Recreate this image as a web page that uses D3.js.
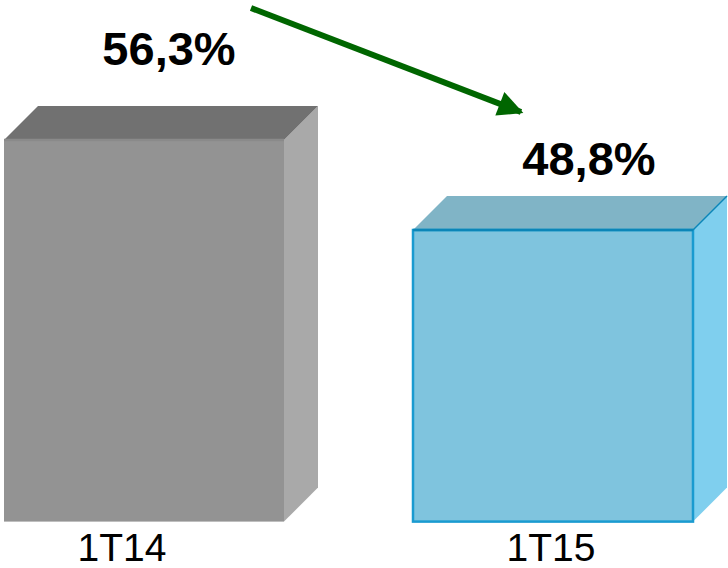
<!DOCTYPE html>
<html>
<head>
<meta charset="utf-8">
<script src="https://cdn.jsdelivr.net/npm/d3@7"></script>
<style>
  html, body { margin: 0; padding: 0; background: #ffffff; }
  svg { display: block; }
</style>
</head>
<body>
<svg id="chart" width="728" height="568"></svg>
<script>
// Data
const categories = ["1T14", "1T15"];
const values = [56.3, 48.8];
const valueLabels = ["56,3%", "48,8%"];

// Visual styling per bar
const faceColors = [
  { front: "#939393", top: "#717171", side: "#a9a9a9", stroke: "none", topEdge: "#8a8a8a" },
  { front: "#7fc4de", top: "#80b4c6", side: "#7fcfee", stroke: "#1a9bd0", topEdge: "#0b86b8" }
];
// small per-bar label nudges
const catLabelDx = [-22, -2];
const valueLabelDx = [0, 11];
const valueLabelLift = [41, 21];

const W = 728, H = 568;
const depth = 34;

const svg = d3.select("#chart");

const x = d3.scaleBand()
  .domain(categories)
  .range([4, 693])
  .paddingInner(0.3154)
  .paddingOuter(0);

const y = d3.scaleLinear()
  .domain([24.5, 60])
  .range([521.6, 95.6]);

const bars = svg.selectAll("g.bar")
  .data(categories.map((c, i) => ({ c, v: values[i], i })))
  .join("g")
  .attr("class", "bar");

bars.each(function(d) {
  const g = d3.select(this);
  const x0 = x(d.c), x1 = x0 + x.bandwidth();
  const yt = y(d.v), yb = y.range()[0];
  const col = faceColors[d.i];

  // side face
  g.append("path")
    .attr("d", `M${x1},${yt} L${x1 + depth},${yt - depth} L${x1 + depth},${yb - depth} L${x1},${yb} Z`)
    .attr("fill", col.side);
  // top face
  g.append("path")
    .attr("d", `M${x0},${yt} L${x0 + depth},${yt - depth} L${x1 + depth},${yt - depth} L${x1},${yt} Z`)
    .attr("fill", col.top);
  // front face
  g.append("rect")
    .attr("x", x0).attr("y", yt)
    .attr("width", x1 - x0).attr("height", yb - yt)
    .attr("fill", col.front)
    .attr("stroke", col.stroke)
    .attr("stroke-width", col.stroke === "none" ? 0 : 2.5);
  // highlighted front top edge
  g.append("line")
    .attr("x1", x0).attr("x2", x1)
    .attr("y1", yt).attr("y2", yt)
    .attr("stroke", col.topEdge)
    .attr("stroke-width", 2.5);
  if (col.stroke !== "none") {
    g.append("line")
      .attr("x1", x1).attr("y1", yt)
      .attr("x2", x1 + depth).attr("y2", yt - depth)
      .attr("stroke", col.topEdge).attr("stroke-width", 1.5);
  }

  // value label
  g.append("text")
    .attr("x", (x0 + x1) / 2 + depth / 2 + 8 + valueLabelDx[d.i])
    .attr("y", yt - depth - valueLabelLift[d.i])
    .attr("text-anchor", "middle")
    .attr("font-family", "Liberation Sans, Arial, sans-serif")
    .attr("font-weight", "bold")
    .attr("font-size", 47)
    .attr("fill", "#000")
    .text(valueLabels[d.i]);

  // category label
  g.append("text")
    .attr("x", (x0 + x1) / 2 + catLabelDx[d.i])
    .attr("y", yb + 39)
    .attr("text-anchor", "middle")
    .attr("font-family", "Liberation Sans, Arial, sans-serif")
    .attr("font-size", 39)
    .attr("fill", "#000")
    .text(d.c);
});

// trend arrow from first to second value
svg.append("defs").append("marker")
  .attr("id", "arrowhead")
  .attr("viewBox", "0 0 10 10")
  .attr("refX", 9).attr("refY", 5)
  .attr("markerWidth", 5).attr("markerHeight", 4.2)
  .attr("markerUnits", "strokeWidth")
  .attr("orient", "auto")
  .append("path")
  .attr("d", "M0,0 L10,5 L0,10 Z")
  .attr("fill", "#006600");

svg.append("line")
  .attr("x1", 251).attr("y1", 8)
  .attr("x2", 521).attr("y2", 112)
  .attr("stroke", "#006600")
  .attr("stroke-width", 6)
  .attr("marker-end", "url(#arrowhead)");
</script>
</body>
</html>
